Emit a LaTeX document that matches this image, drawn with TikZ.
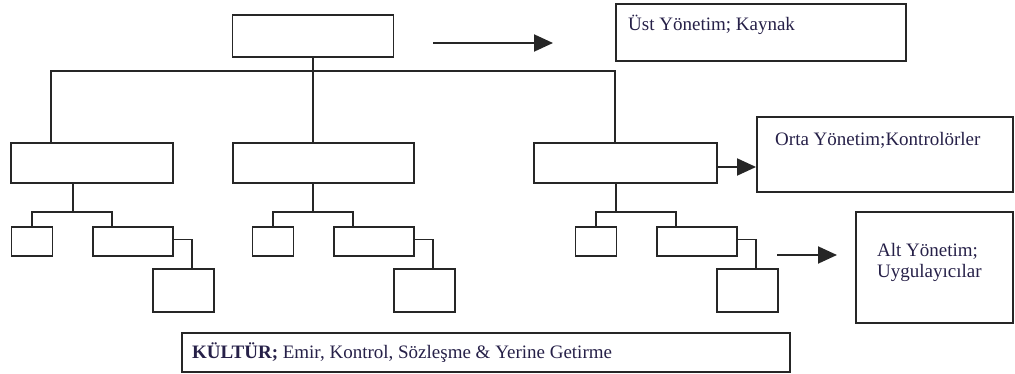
\documentclass[tikz,border=0pt]{standalone}
\usepackage{fontspec}
\setmainfont{Liberation Serif}
\usetikzlibrary{arrows.meta}
\definecolor{ink}{RGB}{38,32,72}
\tikzset{
  box/.style={draw=black!85, line width=1.9pt, inner sep=0pt},
  link/.style={draw=black!85, line width=1.9pt},
  arr/.style={link, -{Triangle[length=19pt,width=17pt]}},
  lbl/.style={font=\fontsize{19}{20.5}\selectfont, text=ink, inner sep=0pt, anchor=base west, align=left},
}
\begin{document}
\begin{tikzpicture}[x=1pt,y=-1pt]
  \useasboundingbox (0,0) rectangle (1015,374);
  % kademeler
  \node[box, minimum width=161, minimum height=42] (top) at (313,36) {};
  \node[box, minimum width=162, minimum height=40] (mida) at (92,163) {};
  \node[box, minimum width=181, minimum height=40] (midb) at (323.5,163) {};
  \node[box, minimum width=183, minimum height=40] (midc) at (625.5,163) {};
  \coordinate (bus) at (313,71);
  \draw[link] (top.south) -- (bus);
  \draw[link] ([xshift=41pt]mida.north west) |- (bus) -| ([xshift=82pt]midc.north west);
  \draw[link] (bus) -- (bus |- midb.north);
  \foreach \n/\s/\d in {a/32/73, b/273/313, c/596/616}{
    \node[box, minimum width=41, minimum height=29] (small\n) at (\s,241.5) {};
    \node[box, minimum width=80, minimum height=29] (wide\n) at (\s+101,241.5) {};
    \node[box, minimum width=61, minimum height=43] (low\n) at (\s+151.5,290.5) {};
    \coordinate (fork\n) at (\d,212);
    \draw[link] (mid\n.south -| fork\n) -- (fork\n);
    \draw[link] (small\n.north) |- (fork\n) -| ([xshift=20pt]wide\n.north west);
    \draw[link] ([yshift=2pt]wide\n.east) -| ([xshift=40pt]low\n.north west);
  }
  % aciklamalar
  \node[box, minimum width=290, minimum height=57] (ust) at (761,32.5) {};
  \node[box, minimum width=256, minimum height=75] (orta) at (885,154.5) {};
  \node[box, minimum width=157, minimum height=111] (alt) at (934.5,267.5) {};
  \node[box, minimum width=608, minimum height=39] (kultur) at (486,352.5) {};
  \node[lbl] (ustT) at (628,31) {Üst Yönetim; Kaynak};
  \node[lbl] (ortaT) at (775,146) {Orta Yönetim;Kontrolörler};
  \node[lbl] (altT) at (877,277) {Alt Yönetim;\\Uygulayıcılar};
  \node[lbl] (kulturT) at (192,358) {\textbf{KÜLTÜR;} Emir, Kontrol, Sözleşme \& Yerine Getirme};
  % oklar
  \coordinate (ta) at (433,43);
  \coordinate (tb) at (553,43);
  \draw[arr] (ta) -- (tb);
  \coordinate (oa) at ([yshift=-4pt]midc.east);
  \draw[arr] (oa) -- (oa -| orta.west);
  \coordinate (aa) at (777,255);
  \coordinate (ab) at (837,255);
  \draw[arr] (aa) -- (ab);
\end{tikzpicture}
\end{document}
